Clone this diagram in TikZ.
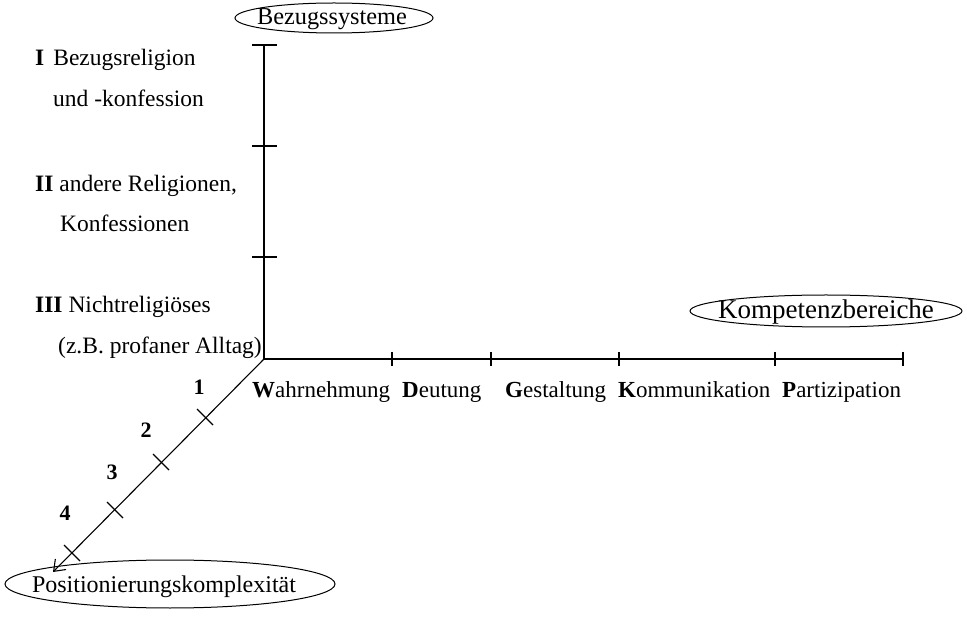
\documentclass[tikz,border=0pt]{standalone}
\usepackage{fontspec}
\setmainfont{Liberation Serif}
\usetikzlibrary{arrows.meta,shapes.geometric}
\begin{document}
\begin{tikzpicture}[x=1pt,y=-1pt,
  axis/.style={line width=1.4pt},
  diag/.style={line width=1.1pt},
  tick/.style={line width=1.4pt},
  lab/.style={anchor=base west,inner sep=0pt,font=\fontsize{23.5}{26}\selectfont},
  blab/.style={anchor=base west,inner sep=0pt,font=\fontsize{23}{26}\selectfont},
  num/.style={anchor=base,inner sep=0pt,font=\fontsize{22}{24}\selectfont\bfseries},
  ovaltext/.style={inner sep=0pt,anchor=base},
  oval/.style={line width=1pt}]
\useasboundingbox (0,0) rectangle (967,617);
% axes
\coordinate (O) at (264,359);
\coordinate (V) at (264,45);
\coordinate (H) at (903,359);
\coordinate (D) at (53,572);
\draw[axis] (V) -- (O) -- (H);
\draw[diag,-{Straight Barb[length=10pt,width=15pt]}] (O) -- (D);
% vertical ticks
\foreach \y in {45,146,257} \draw[tick] (252,\y) -- (277,\y);
% horizontal ticks
\foreach \x in {392,491,619,775,903} \draw[tick] (\x,352) -- (\x,366);
% diagonal ticks
\foreach \x/\y in {205/417,161/462,115/510,72/553} \draw[diag] (\x-8,\y-8) -- (\x+8,\y+8);
% ellipses
\node[ovaltext,font=\fontsize{24.3}{26}\selectfont] (bez) at (332,25) {Bezugssysteme};
\draw[oval] (334,18) ellipse [x radius=99, y radius=15];
\node[ovaltext,font=\fontsize{27}{30}\selectfont] (komp) at (826,319) {Kompetenzbereiche};
\draw[oval] (826,311) ellipse [x radius=136, y radius=16];
\node[ovaltext,font=\fontsize{24}{26}\selectfont] (pos) at (164,592) {Positionierungskomplexität};
\draw[oval] (170,584) ellipse [x radius=165, y radius=24];
% left labels
\node[lab] (l1) at (35,66) {\textbf{I}\hspace{9pt}Bezugsreligion};
\node[lab] (l1b) at (53,107) {und -konfession};
\node[lab] (l2) at (35,192) {\textbf{II} andere Religionen,};
\node[lab] (l2b) at (60,232) {Konfessionen};
\node[lab] (l3) at (35,313) {\textbf{III} Nichtreligiöses};
\node[lab] (l3b) at (58,354) {(z.B. profaner Alltag)};
% bottom labels
\node[blab] (w) at (252,398) {\textbf{W}ahrnehmung};
\node[blab] (d) at (402,398) {\textbf{D}eutung};
\node[blab] (g) at (505,398) {\textbf{G}estaltung};
\node[blab] (k) at (618,398) {\textbf{K}ommunikation};
\node[blab] (p) at (782,398) {\textbf{P}artizipation};
% numbers
\node[num] (n1) at (199,395) {1};
\node[num] (n2) at (146,438) {2};
\node[num] (n3) at (112,480) {3};
\node[num] (n4) at (65,520) {4};
\end{tikzpicture}
\end{document}
